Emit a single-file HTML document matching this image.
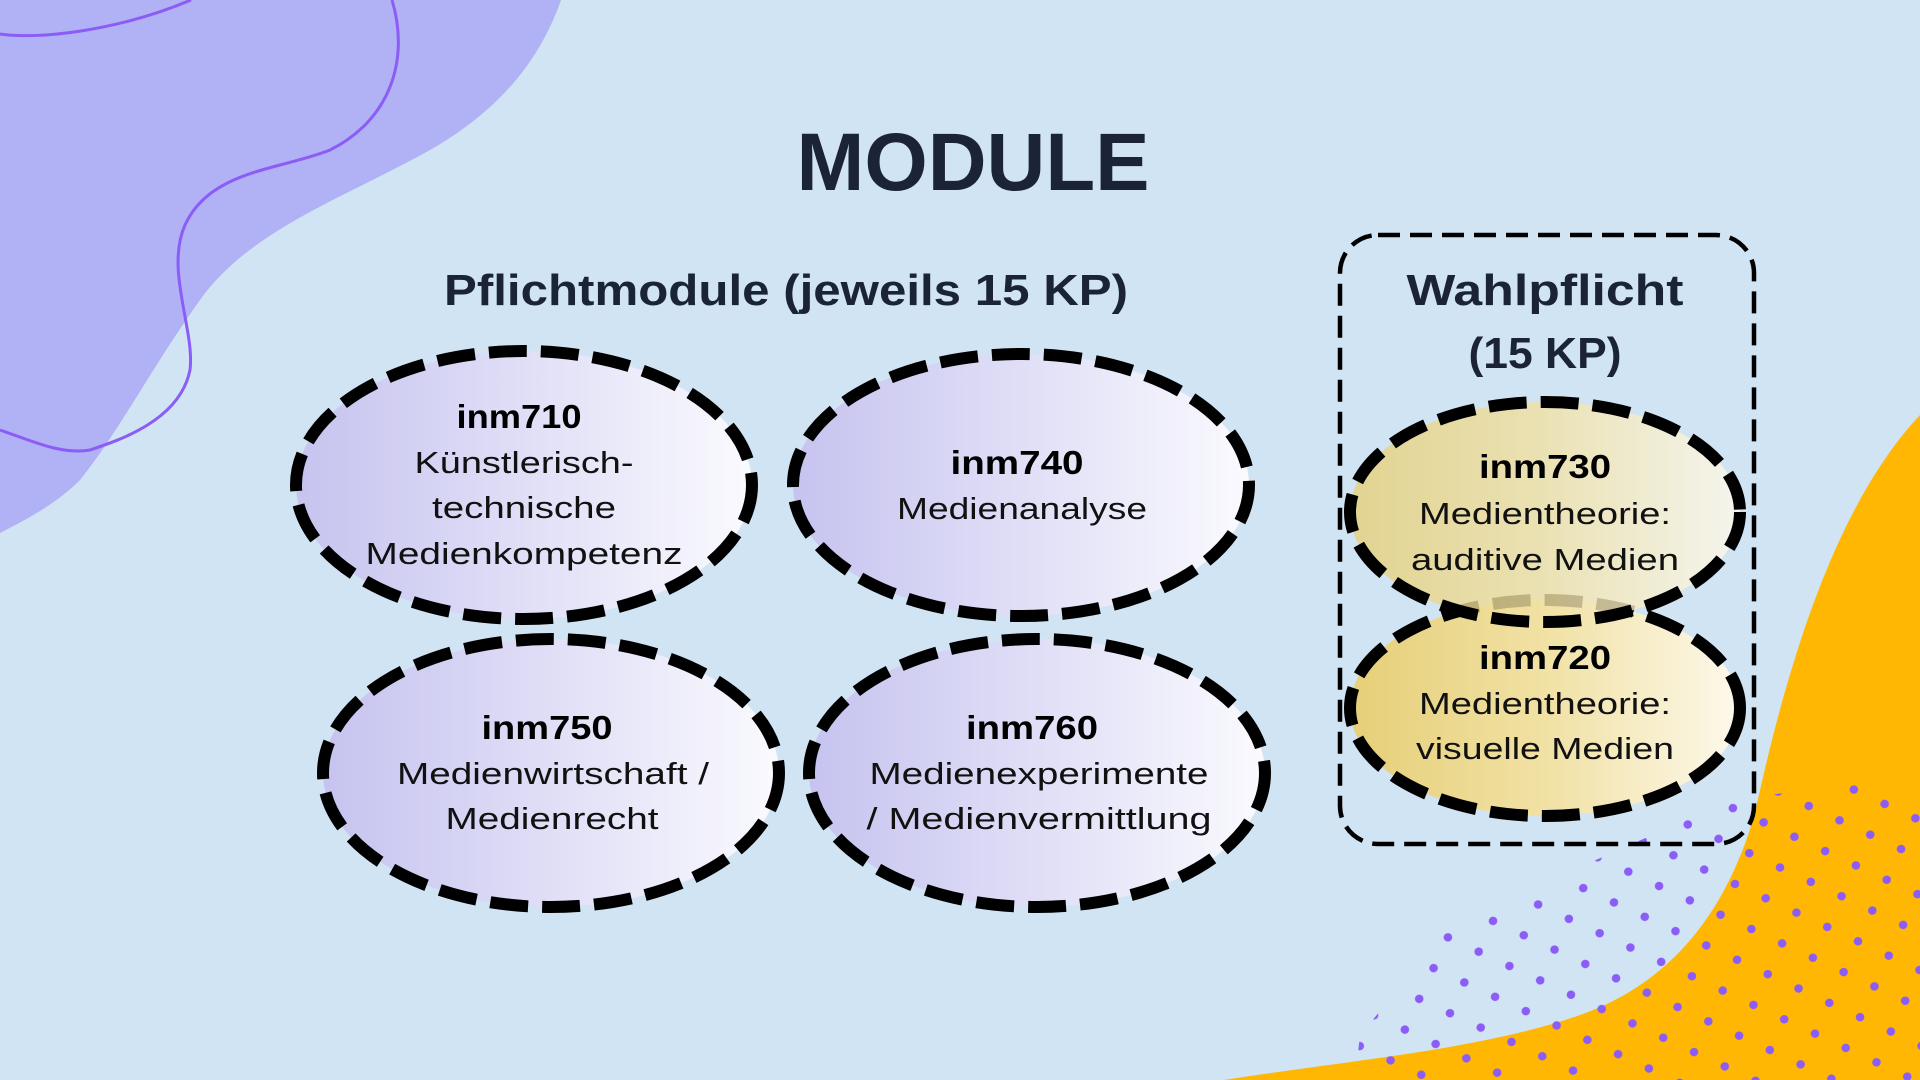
<!DOCTYPE html>
<html><head><meta charset="utf-8"><style>
html,body{margin:0;padding:0;width:1920px;height:1080px;overflow:hidden;background:#d1e4f3}
svg{display:block}
text{font-family:"Liberation Sans",sans-serif;text-anchor:middle}
.h{font-weight:bold;fill:#1b2436}
.c{font-weight:bold;font-size:33px;fill:#000}
.b{font-size:31px;fill:#111}
</style></head><body>
<svg width="1920" height="1080" viewBox="0 0 1920 1080" xmlns="http://www.w3.org/2000/svg">
<defs>
<linearGradient id="gp" x1="0" x2="1" y1="0" y2="0"><stop offset="0" stop-color="#c6c3ef"/><stop offset="1" stop-color="#fafafe"/></linearGradient>
<linearGradient id="gy" x1="0" x2="1" y1="0" y2="0"><stop offset="0" stop-color="#e6cf78"/><stop offset="0.5" stop-color="#f1e1a4"/><stop offset="1" stop-color="#fdf9ec"/></linearGradient>
<pattern id="dots" width="48" height="48" patternUnits="userSpaceOnUse" patternTransform="rotate(-20)">
<circle cx="8" cy="8" r="4.3" fill="#8b5cf6"/><circle cx="32" cy="32" r="4.3" fill="#8b5cf6"/>
</pattern>
</defs>
<rect width="1920" height="1080" fill="#d1e4f3"/>
<!-- purple blob -->
<path d="M0 0 L561 0 C540 60 500 110 430 150 C340 200 250 230 200 300 C150 370 120 430 80 480 C55 505 25 520 0 533 Z" fill="#b1b1f5"/>
<path d="M0 34 C40 40 120 30 191 0" fill="none" stroke="#8b5cf6" stroke-width="3"/>
<path d="M392 0 C410 60 390 120 330 150 C280 170 210 170 185 225 C165 270 195 330 190 370 C180 420 120 440 90 450 C60 455 30 440 0 430" fill="none" stroke="#8b5cf6" stroke-width="3"/>
<!-- yellow blob -->
<path d="M1224 1080 C1350 1060 1480 1050 1580 1015 C1680 980 1730 900 1755 813 C1790 650 1840 500 1920 415 L1920 1080 Z" fill="#ffb703"/>
<!-- dots -->
<path d="M1355 1080 L1360 1035 L1454 923 L1731 800 L1920 775 L1920 1080 Z" fill="url(#dots)"/>
<!-- titles -->
<text class="h" x="973" y="190" font-size="82" textLength="353" lengthAdjust="spacingAndGlyphs">MODULE</text>
<text class="h" x="786" y="305" font-size="44" textLength="684" lengthAdjust="spacingAndGlyphs">Pflichtmodule (jeweils 15 KP)</text>
<!-- wahlpflicht box -->
<rect x="1340" y="235" width="414" height="609" rx="38" fill="none" stroke="#000" stroke-width="4.5" stroke-dasharray="22 10"/>
<text class="h" x="1545" y="305" font-size="44" textLength="277" lengthAdjust="spacingAndGlyphs">Wahlpflicht</text>
<text class="h" x="1545" y="368" font-size="44" textLength="153" lengthAdjust="spacingAndGlyphs">(15 KP)</text>
<!-- ellipses -->
<g stroke="#000" stroke-width="12" stroke-dasharray="38 14">
<ellipse cx="524" cy="485" rx="228" ry="134" fill="url(#gp)"/>
<ellipse cx="1021" cy="485" rx="228" ry="131" fill="url(#gp)"/>
<ellipse cx="551" cy="773" rx="228" ry="134" fill="url(#gp)"/>
<ellipse cx="1037" cy="773" rx="228" ry="134" fill="url(#gp)"/>
<ellipse cx="1545" cy="708" rx="195" ry="108" fill="url(#gy)"/>
<ellipse cx="1545" cy="512" rx="195" ry="110" fill="url(#gy)" fill-opacity="0.8"/>
</g>
<!-- ellipse texts -->
<text class="c" x="519" y="428" textLength="125" lengthAdjust="spacingAndGlyphs">inm710</text>
<text class="b" x="524" y="473" textLength="219" lengthAdjust="spacingAndGlyphs">Künstlerisch-</text>
<text class="b" x="524" y="518" textLength="184" lengthAdjust="spacingAndGlyphs">technische</text>
<text class="b" x="524" y="564" textLength="317" lengthAdjust="spacingAndGlyphs">Medienkompetenz</text>

<text class="c" x="1017" y="474" textLength="133" lengthAdjust="spacingAndGlyphs">inm740</text>
<text class="b" x="1022" y="519" textLength="250" lengthAdjust="spacingAndGlyphs">Medienanalyse</text>

<text class="c" x="547" y="739" textLength="131" lengthAdjust="spacingAndGlyphs">inm750</text>
<text class="b" x="553" y="784" textLength="312" lengthAdjust="spacingAndGlyphs">Medienwirtschaft /</text>
<text class="b" x="552" y="829" textLength="213" lengthAdjust="spacingAndGlyphs">Medienrecht</text>

<text class="c" x="1032" y="739" textLength="132" lengthAdjust="spacingAndGlyphs">inm760</text>
<text class="b" x="1039" y="784" textLength="339" lengthAdjust="spacingAndGlyphs">Medienexperimente</text>
<text class="b" x="1039" y="829" textLength="345" lengthAdjust="spacingAndGlyphs">/ Medienvermittlung</text>

<text class="c" x="1545" y="478" textLength="132" lengthAdjust="spacingAndGlyphs">inm730</text>
<text class="b" x="1545" y="524" textLength="252" lengthAdjust="spacingAndGlyphs">Medientheorie:</text>
<text class="b" x="1545" y="570" textLength="268" lengthAdjust="spacingAndGlyphs">auditive Medien</text>

<text class="c" x="1545" y="669" textLength="132" lengthAdjust="spacingAndGlyphs">inm720</text>
<text class="b" x="1545" y="714" textLength="252" lengthAdjust="spacingAndGlyphs">Medientheorie:</text>
<text class="b" x="1545" y="759" textLength="258" lengthAdjust="spacingAndGlyphs">visuelle Medien</text>
</svg>
</body></html>
